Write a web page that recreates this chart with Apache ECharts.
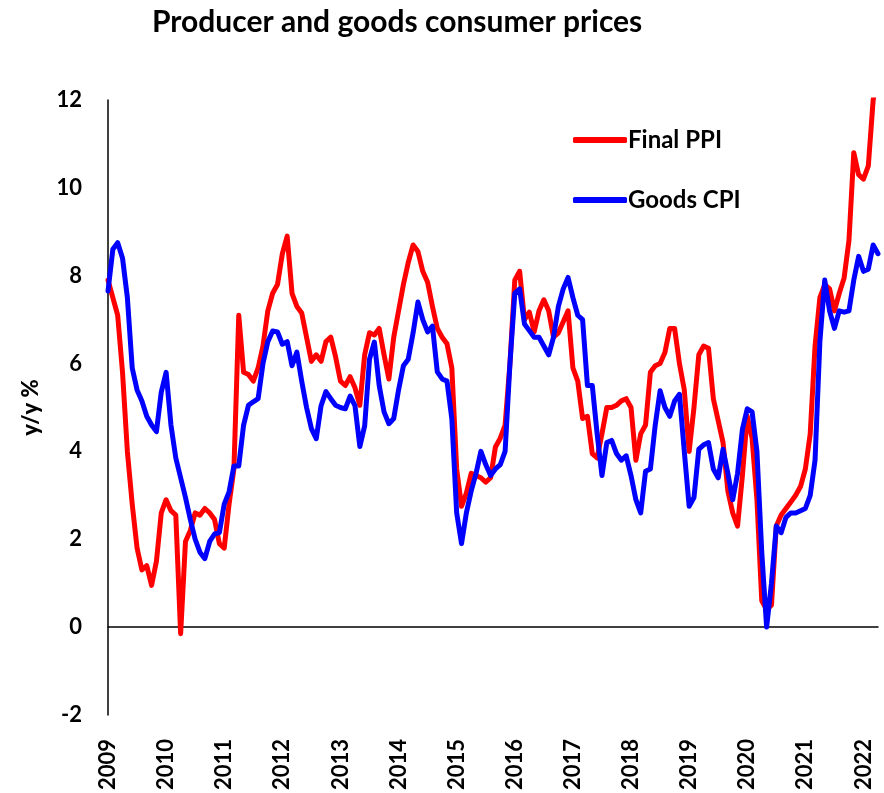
<!DOCTYPE html>
<html>
<head>
<meta charset="utf-8">
<title>Producer and goods consumer prices</title>
<script src="https://cdn.jsdelivr.net/npm/echarts@6/dist/echarts.min.js"></script>
<style>
  html, body { margin: 0; padding: 0; background: #fff; }
  #main { width: 884px; height: 793px; }
</style>
</head>
<body>
<div id="main"></div>
<script>
// monthly, Jan 2009 .. Apr 2022
const years = ['2009', '2010', '2011', '2012', '2013', '2014', '2015', '2016', '2017', '2018', '2019', '2020', '2021', '2022'];
const monthNames = ['01', '02', '03', '04', '05', '06', '07', '08', '09', '10', '11', '12'];
const lastMonths = 4; // 2022 stops in April

// Final PPI, y/y %
const finalPPI = [
  7.9, 7.5, 7.1, 5.8, 4.0, 2.8, 1.8, 1.3, 1.4, 0.95, 1.5, 2.6,
  2.9, 2.65, 2.55, -0.15, 1.95, 2.2, 2.6, 2.55, 2.7, 2.6, 2.45, 1.9,
  1.8, 2.8, 3.6, 7.1, 5.8, 5.75, 5.6, 5.9, 6.4, 7.2, 7.6, 7.8,
  8.5, 8.9, 7.6, 7.3, 7.15, 6.6, 6.05, 6.2, 6.05, 6.5, 6.6, 6.15,
  5.6, 5.5, 5.7, 5.45, 5.05, 6.2, 6.7, 6.65, 6.8, 6.2, 5.65, 6.6,
  7.2, 7.8, 8.3, 8.7, 8.55, 8.1, 7.85, 7.3, 6.8, 6.6, 6.45, 5.9,
  3.6, 2.75, 3.05, 3.5, 3.45, 3.4, 3.3, 3.4, 4.1, 4.3, 4.6, 6.0,
  7.9, 8.1, 7.0, 7.17, 6.72, 7.2, 7.45, 7.2, 6.6, 6.7, 6.95, 7.2,
  5.9, 5.6, 4.75, 4.8, 3.95, 3.85, 4.4, 5.0, 5.0, 5.05, 5.15, 5.2,
  5.0, 3.8, 4.4, 4.6, 5.8, 5.95, 6.0, 6.25, 6.8, 6.8, 6.0, 5.4,
  4.0, 5.0, 6.2, 6.4, 6.35, 5.2, 4.7, 4.2, 3.1, 2.6, 2.3, 3.45,
  4.8, 4.3, 2.9, 0.6, 0.4, 0.5, 2.3, 2.55, 2.7, 2.85, 3.0, 3.2,
  3.6, 4.4, 6.4, 7.5, 7.8, 7.7, 7.2, 7.6, 7.95, 8.8, 10.8, 10.3,
  10.2, 10.5, 12.0, 12.6
];

// Goods CPI, y/y %
const goodsCPI = [
  7.65, 8.6, 8.75, 8.4, 7.5, 5.9, 5.4, 5.15, 4.8, 4.6, 4.45, 5.35,
  5.8, 4.6, 3.85, 3.4, 2.95, 2.45, 2.0, 1.7, 1.56, 1.95, 2.12, 2.15,
  2.8, 3.08, 3.67, 3.67, 4.6, 5.05, 5.13, 5.2, 6.0, 6.5, 6.74, 6.72,
  6.44, 6.5, 5.95, 6.26, 5.6, 5.0, 4.52, 4.29, 5.04, 5.36, 5.2, 5.05,
  5.0, 4.97, 5.26, 5.04, 4.11, 4.58, 6.1, 6.49, 5.5, 4.9, 4.63, 4.75,
  5.4, 5.95, 6.1, 6.7, 7.4, 7.0, 6.72, 6.85, 5.81, 5.65, 5.6, 4.74,
  2.6, 1.9, 2.6, 3.1, 3.5, 4.0, 3.7, 3.45, 3.6, 3.7, 4.0, 6.0,
  7.6, 7.7, 6.9, 6.75, 6.6, 6.6, 6.4, 6.2, 6.6, 7.3, 7.7, 7.96,
  7.5, 7.1, 7.0, 5.5, 5.5, 4.4, 3.45, 4.2, 4.25, 3.95, 3.8, 3.9,
  3.45, 2.9, 2.6, 3.55, 3.6, 4.6, 5.38, 5.0, 4.8, 5.15, 5.3, 4.0,
  2.75, 2.95, 4.05, 4.15, 4.2, 3.6, 3.4, 4.05, 3.5, 2.9, 3.5, 4.5,
  4.97, 4.9, 4.0, 1.7, 0.0, 1.0, 2.3, 2.15, 2.5, 2.6, 2.6, 2.65,
  2.7, 3.0, 3.8, 6.5, 7.9, 7.2, 6.8, 7.2, 7.17, 7.2, 7.9, 8.44,
  8.1, 8.15, 8.7, 8.5
];

const yTicks = { min: -2, max: 12, step: 2 };

// build month categories from the year list
let months = [];
for (let y of years) {
  let n = y === years[years.length - 1] ? lastMonths : 12;
  for (let k = 0; k < n; k++) {
    months.push(y + '-' + monthNames[k]);
  }
}

const font = 'Lato';
let chart = echarts.init(document.getElementById('main'), null, { renderer: 'canvas' });

let option = {
  backgroundColor: '#fff',
  animation: false,
  title: {
    text: 'Producer and goods consumer prices',
    left: 147,
    top: 2,
    textStyle: { fontFamily: font, fontWeight: 'bold', fontSize: 30, color: '#000' }
  },
  legend: {
    orient: 'vertical',
    left: 568,
    top: 123,
    itemWidth: 54,
    itemHeight: 6,
    itemGap: 36,
    icon: 'roundRect',
    data: ['Final PPI', 'Goods CPI'],
    textStyle: { fontFamily: font, fontWeight: 'bold', fontSize: 24, color: '#000', padding: [0, 0, 0, -4] }
  },
  grid: {
    left: 108,
    right: 6,
    top: 100,
    bottom: 76,
    containLabel: false
  },
  xAxis: [
    {
      type: 'category',
      data: months,
      boundaryGap: false,
      axisLine: { show: false, onZero: false },
      axisTick: { show: false },
      splitLine: { show: false },
      axisLabel: {
        interval: function (i, v) { return v.slice(5) === '01'; },
        formatter: function (v) { return v.slice(0, 4); },
        rotate: 90,
        margin: 24,
        fontFamily: font,
        fontWeight: 'bold',
        fontSize: 22,
        color: '#000'
      }
    },
    {
      // zero line
      type: 'category',
      data: months,
      position: 'top',
      boundaryGap: false,
      axisLine: { show: true, onZero: true, lineStyle: { color: '#000', width: 1.5 } },
      axisTick: { show: false },
      axisLabel: { show: false },
      splitLine: { show: false }
    }
  ],
  yAxis: {
    type: 'value',
    min: yTicks.min,
    max: yTicks.max,
    interval: yTicks.step,
    name: 'y/y %',
    nameLocation: 'middle',
    nameGap: 66,
    nameTextStyle: { fontFamily: font, fontWeight: 900, fontSize: 22, color: '#000' },
    axisLine: { show: true, lineStyle: { color: '#000', width: 1.5 } },
    axisTick: { show: false },
    splitLine: { show: false },
    axisLabel: { margin: 26, fontFamily: font, fontWeight: 'bold', fontSize: 22, color: '#000' }
  },
  series: [
    {
      name: 'Final PPI',
      type: 'line',
      xAxisIndex: 0,
      data: finalPPI,
      showSymbol: false,
      symbol: 'none',
      color: '#ff0000',
      lineStyle: { color: '#ff0000', width: 5, join: 'round', cap: 'round' }
    },
    {
      name: 'Goods CPI',
      type: 'line',
      xAxisIndex: 0,
      data: goodsCPI,
      showSymbol: false,
      symbol: 'none',
      color: '#0000ff',
      lineStyle: { color: '#0000ff', width: 5, join: 'round', cap: 'round' }
    }
  ]
};

chart.setOption(option);
</script>
</body>
</html>
